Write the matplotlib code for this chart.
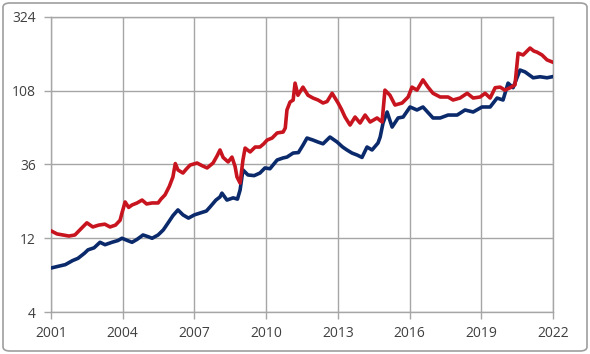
import matplotlib
matplotlib.use("Agg")
import matplotlib.pyplot as plt
from matplotlib.patches import FancyBboxPatch

# values (decimal year, value)
red_years = [2001.0, 2001.25, 2001.5, 2001.75, 2002.0, 2002.25, 2002.5, 2002.75, 2003.0, 2003.25,
             2003.47, 2003.7, 2003.89, 2003.97, 2004.1, 2004.25, 2004.39, 2004.6, 2004.81, 2005.0,
             2005.23, 2005.48, 2005.6, 2005.77, 2005.95, 2006.1, 2006.2, 2006.31, 2006.52, 2006.65,
             2006.82, 2007.11, 2007.3, 2007.53, 2007.78, 2007.95, 2008.07, 2008.2, 2008.41, 2008.57,
             2008.7, 2008.78, 2008.91, 2009.03, 2009.12, 2009.33, 2009.54, 2009.74, 2009.9, 2010.04,
             2010.25, 2010.46, 2010.71, 2010.8, 2010.87, 2011.0, 2011.13, 2011.21, 2011.33, 2011.54,
             2011.75, 2011.96, 2012.17, 2012.38, 2012.55, 2012.76, 2013.01, 2013.15, 2013.3, 2013.51,
             2013.72, 2013.93, 2014.14, 2014.35, 2014.64, 2014.85, 2014.97, 2015.18, 2015.39, 2015.69,
             2015.94, 2016.1, 2016.31, 2016.56, 2016.77, 2016.98, 2017.28, 2017.61, 2017.82, 2018.11,
             2018.41, 2018.66, 2018.95, 2019.16, 2019.37, 2019.58, 2019.79, 2019.99, 2020.21, 2020.41,
             2020.54, 2020.75, 2021.04, 2021.2, 2021.33, 2021.54, 2021.75, 2021.96]
red_vals = [13.4, 12.8, 12.6, 12.4, 12.6, 13.8, 15.1, 14.2, 14.6, 14.8,
            14.2, 14.6, 15.7, 17.5, 20.6, 19.0, 19.7, 20.3, 21.2, 20.0,
            20.3, 20.3, 21.5, 22.9, 26.0, 29.9, 36.5, 33.2, 31.7, 33.5,
            35.7, 36.8, 35.5, 34.2, 36.8, 41.0, 44.7, 40.0, 37.4, 40.2,
            35.0, 29.9, 27.3, 38.5, 46.0, 43.4, 46.7, 46.7, 49.0, 51.8,
            53.4, 57.6, 58.4, 62.0, 81.1, 91.3, 94.0, 121, 101, 114,
            101, 96.9, 94.1, 90.0, 92.0, 104, 90.0, 82.0, 73.0, 64.8,
            73.0, 66.8, 75.2, 67.8, 72.0, 67.8, 109, 101, 87.3, 90.0,
            98.4, 114, 109, 127, 114, 104, 98.4, 98.4, 94.1, 96.9,
            104, 96.9, 98.4, 104, 96.9, 113, 114, 109, 113, 118,
            189, 184, 204, 195, 192, 184, 171, 166]

blue_years = [2001.0, 2001.3, 2001.6, 2001.9, 2002.13, 2002.4, 2002.55, 2002.8, 2003.05, 2003.26,
              2003.55, 2003.8, 2003.97, 2004.2, 2004.39, 2004.6, 2004.85, 2005.05, 2005.23, 2005.48,
              2005.7, 2005.9, 2006.1, 2006.31, 2006.52, 2006.75, 2007.0, 2007.25, 2007.5, 2007.65,
              2007.9, 2008.07, 2008.15, 2008.36, 2008.62, 2008.8, 2008.91, 2009.03, 2009.24, 2009.5,
              2009.74, 2009.95, 2010.16, 2010.46, 2010.71, 2010.87, 2011.13, 2011.35, 2011.54, 2011.71,
              2011.96, 2012.17, 2012.38, 2012.67, 2012.97, 2013.2, 2013.38, 2013.59, 2013.8, 2014.01,
              2014.22, 2014.43, 2014.68, 2014.77, 2014.89, 2015.06, 2015.27, 2015.52, 2015.73, 2016.02,
              2016.31, 2016.56, 2016.98, 2017.28, 2017.61, 2017.99, 2018.32, 2018.66, 2019.03, 2019.37,
              2019.66, 2019.91, 2020.12, 2020.33, 2020.62, 2020.83, 2021.17, 2021.46, 2021.75, 2021.96]
blue_vals = [7.7, 7.9, 8.1, 8.6, 8.9, 9.6, 10.1, 10.4, 11.3, 10.9,
             11.3, 11.6, 12.0, 11.6, 11.3, 11.8, 12.6, 12.3, 12.0, 12.6,
             13.6, 15.1, 16.8, 18.3, 17.0, 16.2, 17.0, 17.5, 18.0, 19.1,
             21.2, 22.2, 23.5, 21.2, 21.9, 21.5, 24.6, 33.2, 30.8, 30.5,
             31.7, 34.2, 33.8, 38.5, 39.7, 40.2, 42.7, 43.0, 48.0, 53.4,
             51.8, 50.3, 49.0, 54.2, 50.3, 46.7, 44.7, 42.7, 41.5, 40.0,
             46.7, 44.7, 49.6, 54.2, 66.8, 78.7, 62.9, 72.0, 73.0, 84.8,
             81.1, 84.8, 72.0, 72.0, 75.2, 75.2, 81.1, 78.7, 84.8, 84.8,
             96.9, 94.1, 121, 113, 147, 143, 131, 133, 131, 133]

y_ticks = [4, 12, 36, 108, 324]
x_ticks = [2001, 2004, 2007, 2010, 2013, 2016, 2019, 2022]

plt.rcParams['font.family'] = ['Open Sans', 'DejaVu Sans']

fig = plt.figure(figsize=(5.9, 3.54), dpi=100)
ax = fig.add_axes([51 / 590, 1 - 312 / 354, 502 / 590, 295 / 354])

ax.plot(blue_years, blue_vals, color='#0B2A6B', lw=2.6, solid_joinstyle='round', zorder=3)
ax.plot(red_years, red_vals, color='#C8141E', lw=2.6, solid_joinstyle='round', zorder=3)

ax.set_yscale('log')
ax.set_ylim(4, 324)
ax.set_xlim(2001, 2022)
ax.set_yticks(y_ticks)
ax.set_yticklabels([str(v) for v in y_ticks])
ax.minorticks_off()
ax.set_xticks(x_ticks)
ax.set_xticklabels([str(v) for v in x_ticks])

ax.grid(True, color='#A6A6A6', lw=1)
for s in ax.spines.values():
    s.set_color('#A6A6A6')
    s.set_linewidth(1)
ax.tick_params(axis='both', colors='#A6A6A6', labelcolor='#404040', labelsize=10, length=5, width=1)
ax.tick_params(axis='y', pad=6)
ax.tick_params(axis='x', pad=5)

# outer rounded frame
frame = FancyBboxPatch((3 / 590, 3 / 354), 584 / 590, 348 / 354,
                       boxstyle='round,pad=0,rounding_size=0.012',
                       transform=fig.transFigure, fill=False,
                       edgecolor='#9E9E9E', lw=1.2)
fig.patches.append(frame)

fig.savefig('out.png', dpi=100)
